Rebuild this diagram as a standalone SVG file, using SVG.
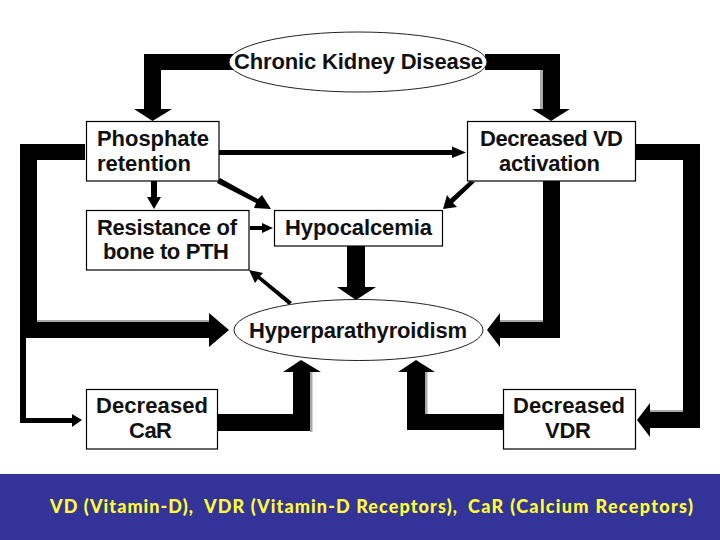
<svg xmlns="http://www.w3.org/2000/svg" width="720" height="540" viewBox="0 0 720 540">
<style>
.box{fill:#fff;stroke:#000;stroke-width:1.2}
.ell{fill:#fff;stroke:#222;stroke-width:1}
.t{font-family:"Liberation Sans",Arial,sans-serif;font-weight:bold;font-size:22px;fill:#111}
.sh{fill:#a8a8a8}
.k{fill:#000}
.cap{font-family:"Lato","Liberation Sans",sans-serif;font-weight:900;font-size:18px;fill:#ffff33}
</style>
<rect width="720" height="540" fill="#fff"/>
<g id="connectors">
<rect class="sh" x="540" y="70" width="3" height="40"/>
<rect class="sh" x="37" y="320" width="172" height="3"/>
<rect class="sh" x="500" y="320" width="43" height="3"/>
<rect class="sh" x="650" y="410" width="33" height="3"/>
<rect class="sh" x="310" y="372" width="2.5" height="60"/>
<rect class="sh" x="425" y="372" width="2.5" height="43"/>
<path class="k" d="M235 54H144V109H134L152.500 121 172 109H161V70H235Z"/>
<path class="k" d="M485 54H560V109H570L551 121 532 109H543V70H485Z"/>
<path class="k" d="M85 144H20V423H72V427L82 420 72 414V418H26V338H209V347L229 330 209 313V322H37V160H85Z"/>
<path class="k" d="M219 150H452V146.500L466 152.500 452 158V155H219Z"/>
<path class="k" d="M151 181H157V197H161L154 209 147 197H151Z"/>
<path class="k" d="M217 183L220 178 258 199 262 195 271 209 254 208 256 203Z"/>
<path class="k" d="M250 226H262V223L273 228 262 233V230H250Z"/>
<path class="k" d="M470 181L475 182 453 203 457 207 443 209 447 195 450 199Z"/>
<path class="k" d="M347 246H365V287H376L356 300 337 287H347Z"/>
<path class="k" d="M292 302L289 305 258 279 255 283 249 270 263 273 260 276Z"/>
<path class="k" d="M543 181H560V338H500V347L487 330 500 313V322H543Z"/>
<path class="k" d="M635 144H700V428H650V437L637 420 650 403V412H683V160H635Z"/>
<path class="k" d="M217 414H293V372H283L301 360 321 372H310V431H217Z"/>
<path class="k" d="M503 414H425V372H435L416 360 398 372H407V430H503Z"/>
</g>
<g id="chronic-kidney-disease"><ellipse class="ell" cx="358" cy="62" rx="129" ry="30"/><text class="t" x="234" y="69" textLength="249">Chronic Kidney Disease</text></g>
<g id="phosphate-retention"><rect class="box" x="86.500" y="121.500" width="132.500" height="59.500"/><text class="t" x="97" y="146" textLength="112">Phosphate</text><text class="t" x="97" y="171" textLength="94">retention</text></g>
<g id="decreased-vd-activation"><rect class="box" x="467.500" y="121.500" width="168" height="59.500"/><text class="t" x="480" y="146" textLength="143">Decreased VD</text><text class="t" x="499" y="171" textLength="101">activation</text></g>
<g id="resistance-of-bone"><rect class="box" x="86.500" y="210.500" width="162.500" height="59.500"/><text class="t" x="97" y="235" textLength="140">Resistance of</text><text class="t" x="103" y="259" textLength="126">bone to PTH</text></g>
<g id="hypocalcemia"><rect class="box" x="274.500" y="210.500" width="168" height="35.500"/><text class="t" x="285" y="235" textLength="147">Hypocalcemia</text></g>
<g id="hyperparathyroidism"><ellipse class="ell" cx="358.500" cy="330" rx="124.500" ry="30.500"/><text class="t" x="249" y="338" textLength="218">Hyperparathyroidism</text></g>
<g id="decreased-car"><rect class="box" x="86.500" y="389.500" width="131" height="59.500"/><text class="t" x="96" y="413" textLength="112">Decreased</text><text class="t" x="129" y="438" textLength="43">CaR</text></g>
<g id="decreased-vdr"><rect class="box" x="503.500" y="389.500" width="132" height="59.500"/><text class="t" x="513" y="413" textLength="112">Decreased</text><text class="t" x="545" y="438" textLength="46">VDR</text></g>
<rect id="caption-band" x="0" y="474" width="720" height="66" fill="#333399"/>
<g id="caption"><text class="cap" x="50" y="513" textLength="143">VD (Vitamin-D),</text><text class="cap" x="204" y="513" textLength="253">VDR (Vitamin-D Receptors),</text><text class="cap" x="468" y="513" textLength="225">CaR (Calcium Receptors)</text></g>
</svg>
